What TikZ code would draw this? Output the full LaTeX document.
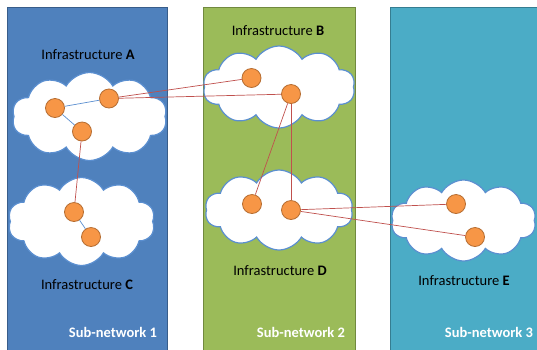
\documentclass[tikz,border=0pt]{standalone}
\usepackage{fontspec}
\setmainfont{Carlito}
\usetikzlibrary{shapes.symbols}
\definecolor{pblue}{HTML}{4F81BD}
\definecolor{pblueb}{HTML}{385D8A}
\definecolor{pgreen}{HTML}{9BBB59}
\definecolor{pgreenb}{HTML}{71893F}
\definecolor{pteal}{HTML}{4BACC6}
\definecolor{ptealb}{HTML}{357D91}
\definecolor{corange}{HTML}{F79646}
\definecolor{corangeb}{HTML}{B66D31}
\definecolor{lred}{HTML}{C0504D}
\definecolor{lblue}{HTML}{5B8FD0}
\begin{document}
\begin{tikzpicture}[x=1pt,y=-1pt,
  panel/.style={line width=1pt},
  cloudbox/.style={cloud, cloud puffs=10, cloud puff arc=120, draw=lblue, line width=1.2pt, fill=white, inner sep=0pt},
  dev/.style={circle, fill=corange, draw=corangeb, line width=0.8pt, minimum size=19pt, inner sep=0pt},
  redlink/.style={draw=lred, line width=0.7pt},
  bluelink/.style={draw=lblue, line width=0.7pt},
  infra/.style={font=\fontsize{14.5}{16}\selectfont, text=black},
  subnet/.style={font=\fontsize{14.5}{16}\selectfont\bfseries, text=white}]
\useasboundingbox (0,0) rectangle (537,349);
\fill[white] (0,0) rectangle (537,349);
\begin{scope}
\clip (0,0) rectangle (537,349);
\draw[panel, fill=pblue, draw=pblueb] (7.5,7) rectangle (167,360);
\draw[panel, fill=pgreen, draw=pgreenb] (203.5,7) rectangle (355,360);
\draw[panel, fill=pteal, draw=ptealb] (390,7) rectangle (545,360);
\end{scope}
% clouds
\node[cloudbox, minimum width=155pt, minimum height=88pt] (cA) at (89.5,116.5) {};
\node[cloudbox, minimum width=152pt, minimum height=82pt] (cB) at (279,87) {};
\node[cloudbox, minimum width=147pt, minimum height=88pt] (cC) at (81.5,221.5) {};
\node[cloudbox, minimum width=148pt, minimum height=80pt] (cD) at (279,210) {};
\node[cloudbox, minimum width=145pt, minimum height=81pt] (cE) at (463.5,220.5) {};
% devices
\node[dev] (a1) at (55,108) {};
\node[dev] (a2) at (109,98.5) {};
\node[dev] (a3) at (82,131.5) {};
\node[dev] (b1) at (251.5,78) {};
\node[dev] (b2) at (291,94) {};
\node[dev] (c1) at (74,212) {};
\node[dev] (c2) at (91,237) {};
\node[dev] (d1) at (252,204) {};
\node[dev] (d2) at (291,210) {};
\node[dev] (e1) at (456,204) {};
\node[dev] (e2) at (475,237) {};
% links
\path[bluelink] (a1) -- (a2);
\path[bluelink] (a1) -- (a3);
\path[bluelink] (c1) -- (c2);
\path[redlink] (a2) -- (b1);
\path[redlink] (a2) -- (b2);
\path[redlink] (a3) -- (c1);
\path[redlink] (b2) -- (d1);
\path[redlink] (b2) -- (d2);
\path[redlink] (d2) -- (e1);
\path[redlink] (d2) -- (e2);
% labels
\node[infra] (lA) at (88,55) {Infrastructure \textbf{A}};
\node[infra] (lB) at (278,31) {Infrastructure \textbf{B}};
\node[infra] (lC) at (87,285) {Infrastructure \textbf{C}};
\node[infra] (lD) at (280,271) {Infrastructure \textbf{D}};
\node[infra] (lE) at (464,281) {Infrastructure \textbf{E}};
\node[subnet] (s1) at (113,332) {Sub-network 1};
\node[subnet] (s2) at (301,332) {Sub-network 2};
\node[subnet] (s3) at (489,332) {Sub-network 3};
\end{tikzpicture}
\end{document}
